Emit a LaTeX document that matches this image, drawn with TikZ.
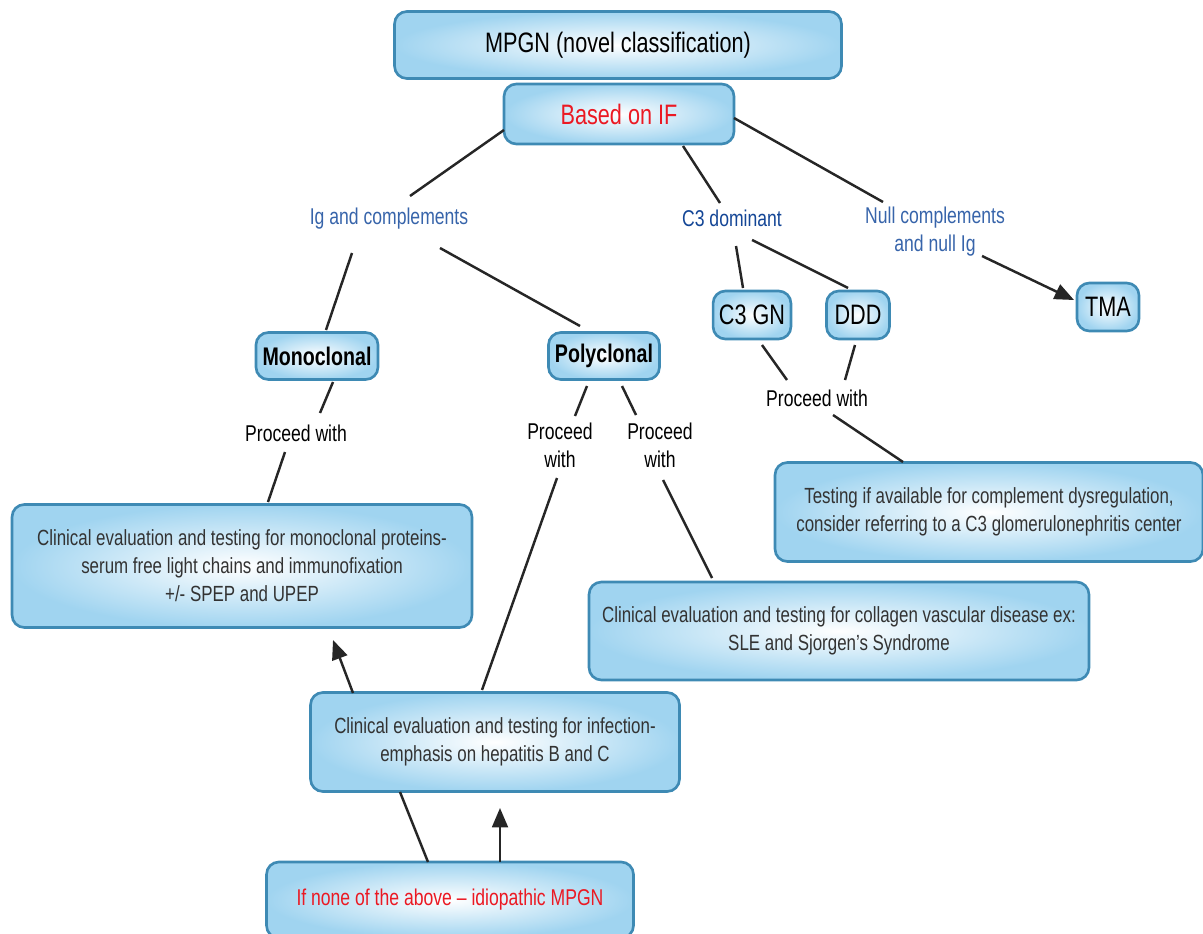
\documentclass[tikz,border=0pt]{standalone}
\usepackage{fontspec}
\setmainfont{Liberation Sans}[FakeStretch=0.77]
\usetikzlibrary{arrows.meta,calc}
\definecolor{boxline}{RGB}{62,138,180}
\definecolor{boxfill}{RGB}{160,212,240}
\definecolor{labblue}{RGB}{55,100,170}
\definecolor{labdark}{RGB}{20,70,150}
\definecolor{labred}{RGB}{235,25,35}
\tikzset{
  box/.style={draw=boxline,line width=1.5pt,rounded corners=7pt,
    inner color=white,outer color=boxfill,align=center,text=black!80,
    font=\fontsize{12.5}{16}\selectfont},
  lab/.style={align=center,font=\fontsize{13}{16}\selectfont},
  link/.style={draw=black!85,line width=1.4pt},
  arr/.style={link,-{Triangle[length=11pt,width=9pt]}}
}
\begin{document}
\begin{tikzpicture}[x=0.02cm,y=-0.02cm]
\useasboundingbox (0,0) rectangle (1203,933);
\node[box,minimum width=8.94cm,minimum height=1.34cm,text=black,font=\fontsize{16}{20}\selectfont]
  (mpgn) at (618,45) {MPGN (novel classification)};
\node[box,minimum width=4.6cm,minimum height=1.2cm,text=labred,font=\fontsize{16}{20}\selectfont]
  (ifb) at (619,114) {Based on IF};
\node[lab,text=labblue] (igc) at (389,219) {Ig and complements};
\node[lab,text=labdark] (c3d) at (732,218) {C3 dominant};
\node[lab,text=labblue] (nul) at (935,232) {Null complements\\and null Ig};
\node[box,minimum width=2.44cm,minimum height=0.94cm,text=black,font=\bfseries\fontsize{14.5}{18}\selectfont]
  (mono) at (317,356) {Monoclonal};
\node[box,minimum width=2.22cm,minimum height=0.94cm,text=black,font=\bfseries\fontsize{14.5}{18}\selectfont]
  (poly) at (604,356) {Polyclonal};
\node[box,minimum width=1.54cm,minimum height=0.96cm,text=black,font=\fontsize{16}{20}\selectfont]
  (c3gn) at (752,315) {C3 GN};
\node[box,minimum width=1.26cm,minimum height=0.96cm,text=black,font=\fontsize{16}{20}\selectfont]
  (ddd) at (858,315) {DDD};
\node[box,minimum width=1.24cm,minimum height=0.96cm,text=black,font=\fontsize{16}{20}\selectfont]
  (tma) at (1108,307) {TMA};
\node[lab] (pw1) at (296,433) {Proceed with};
\node[lab] (pw2) at (560,445) {Proceed\\with};
\node[lab] (pw3) at (660,445) {Proceed\\with};
\node[lab] (pw4) at (817,398) {Proceed with};
\node[box,minimum width=8.56cm,minimum height=1.98cm] (cdr) at (989,512)
  {Testing if available for complement dysregulation,\\consider referring to a C3 glomerulonephritis center};
\node[box,minimum width=9.2cm,minimum height=2.46cm] (mpt) at (242,566)
  {Clinical evaluation and testing for monoclonal proteins-\\serum free light chains and immunofixation\\+/- SPEP and UPEP};
\node[box,minimum width=10cm,minimum height=1.96cm] (cvd) at (839,631)
  {Clinical evaluation and testing for collagen vascular disease ex:\\SLE and Sjorgen's Syndrome};
\node[box,minimum width=7.38cm,minimum height=1.98cm] (inf) at (495,742)
  {Clinical evaluation and testing for infection-\\emphasis on hepatitis B and C};
\node[box,minimum width=7.34cm,minimum height=1.52cm,text=labred,font=\fontsize{13}{16}\selectfont]
  (idi) at (450,900) {If none of the above -- idiopathic MPGN};
% connectors
\draw[link] ($(ifb)+(-115,16)$) -- ($(igc)+(21,-23)$);
\draw[link] ($(ifb)+(64,32)$) -- ($(c3d)+(-12,-15)$);
\draw[link] ($(ifb)+(115,4)$) -- ($(nul)+(-52,-30)$);
\draw[link] ($(igc)+(-37,34)$) -- ($(mono)+(9,-26)$);
\draw[link] ($(igc)+(51,29)$) -- ($(poly)+(-24,-30)$);
\draw[link] ($(c3d)+(4,28)$) -- ($(c3gn)+(-9,-27)$);
\draw[link] ($(c3d)+(20,22)$) -- ($(ddd)+(-10,-27)$);
\draw[arr] ($(nul)+(47,24)$) -- ($(tma)+(-34,-7)$);
\draw[link] ($(mono)+(16,26)$) -- ($(pw1)+(24,-20)$);
\draw[link] ($(pw1)+(-11,19)$) -- ($(mpt)+(26,-64)$);
\draw[link] ($(poly)+(-17,30)$) -- ($(pw2)+(15,-29)$);
\draw[link] ($(poly)+(18,30)$) -- ($(pw3)+(-24,-30)$);
\draw[link] ($(pw2)+(-3,33)$) -- ($(inf)+(-13,-52)$);
\draw[link] ($(pw3)+(3,35)$) -- ($(cvd)+(-127,-53)$);
\draw[link] ($(c3gn)+(10,30)$) -- ($(pw4)+(-30,-18)$);
\draw[link] ($(ddd)+(-3,30)$) -- ($(pw4)+(28,-18)$);
\draw[link] ($(pw4)+(16,17)$) -- ($(cdr)+(-86,-50)$);
\draw[arr] ($(inf)+(-142,-49)$) -- ($(mpt)+(91,74)$);
\draw[link] ($(idi)+(-22,-38)$) -- ($(inf)+(-95,50)$);
\draw[arr] ($(idi)+(50,-38)$) -- ($(inf)+(5,66)$);
\end{tikzpicture}
\end{document}
